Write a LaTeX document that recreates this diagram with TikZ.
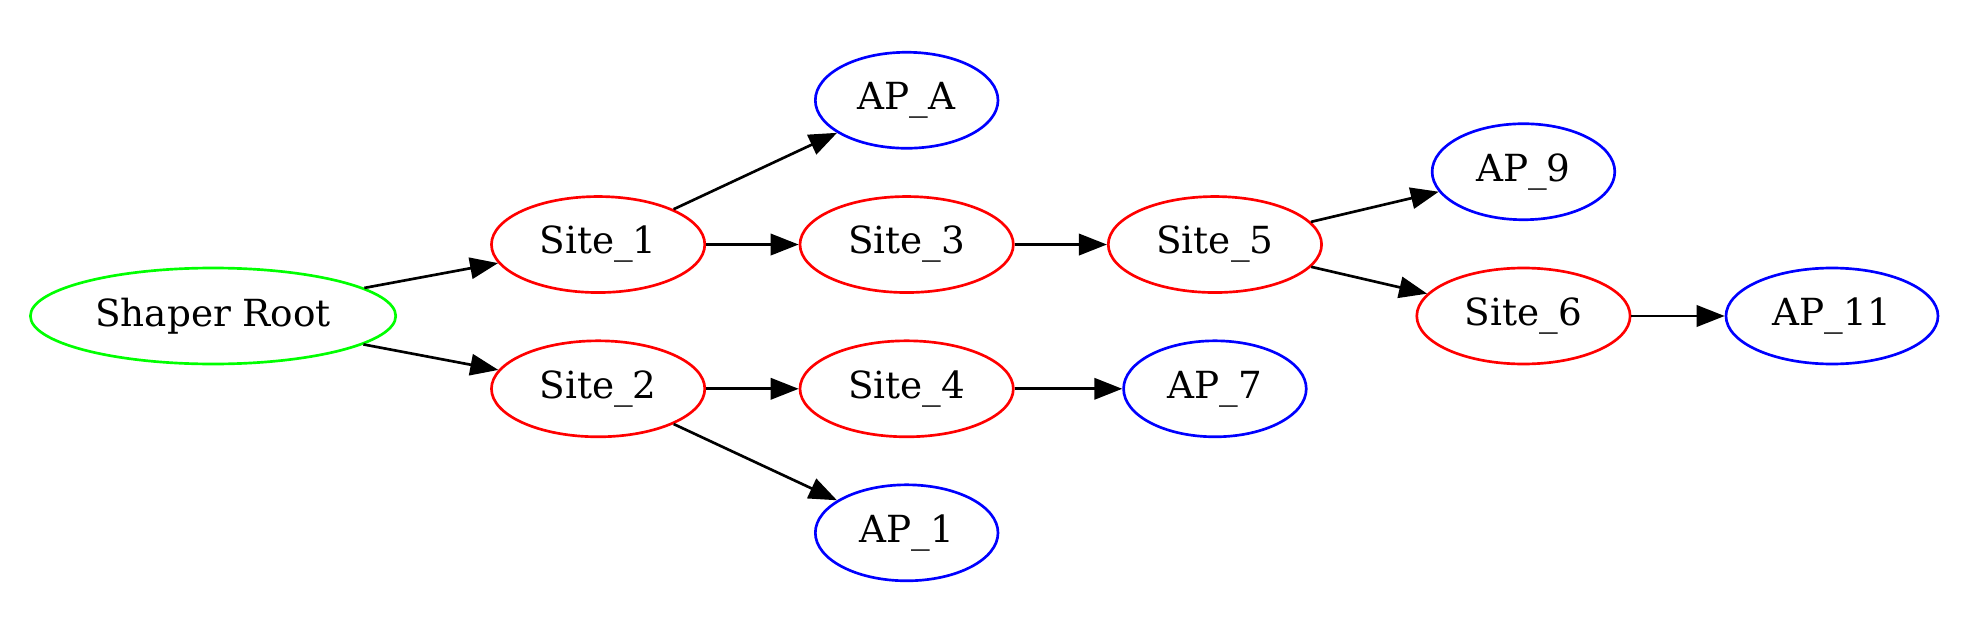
\documentclass[tikz,border=0pt]{standalone}
\usepackage{fontspec}
\setmainfont{DejaVu Serif}
\usepackage{tikz}
\usetikzlibrary{arrows.meta,shapes.geometric}

\begin{document}
\begin{tikzpicture}[x=1pt, y=-1pt,
    every node/.style={ellipse, draw, line width=1pt, inner sep=0pt,
      minimum height=36pt, font=\fontsize{14}{16}\selectfont},
    rootnode/.style={draw={rgb,255:red,0;green,255;blue,0}, minimum width=137pt},
    sitenode/.style={draw={rgb,255:red,255;green,0;blue,0}, minimum width=80pt},
    apnode/.style={draw={rgb,255:red,0;green,0;blue,255}, minimum width=68.5pt},
    link/.style={line width=1pt, -{Triangle[length=10.5pt,width=8pt]}}]
  % Frame
  \useasboundingbox (0,0) rectangle (737.25,235.5);

  % Rank 0 and 1
  \node[rootnode] (root)  at (79.9,118.5)  {Shaper Root};
  \node[sitenode] (site1) at (224.3,91.7)  {Site\_1};
  \node[sitenode] (site2) at (224.3,145.8) {Site\_2};

  % Rank 2
  \node[apnode]   (apA)   at (340,37.6)    {AP\_A};
  \node[sitenode] (site3) at (340,91.7)    {Site\_3};
  \node[sitenode] (site4) at (340,145.8)   {Site\_4};
  \node[apnode]   (ap1)   at (340,199.8)   {AP\_1};

  % Rank 3 and 4
  \node[sitenode] (site5) at (455.6,91.7)  {Site\_5};
  \node[apnode]   (ap7)   at (455.6,145.8) {AP\_7};
  \node[apnode]   (ap9)   at (571.3,64.4)  {AP\_9};
  \node[sitenode] (site6) at (571.3,118.5) {Site\_6};
  \node[apnode, minimum width=79.5pt] (ap11) at (687,118.5) {AP\_11};

  % Links
  \draw[link] (root) -- (site1);
  \draw[link] (root) -- (site2);
  \draw[link] (site1) -- (apA);
  \draw[link] (site1) -- (site3);
  \draw[link] (site2) -- (site4);
  \draw[link] (site2) -- (ap1);
  \draw[link] (site3) -- (site5);
  \draw[link] (site4) -- (ap7);
  \draw[link] (site5) -- (ap9);
  \draw[link] (site5) -- (site6);
  \draw[link] (site6) -- (ap11);
\end{tikzpicture}
\end{document}
